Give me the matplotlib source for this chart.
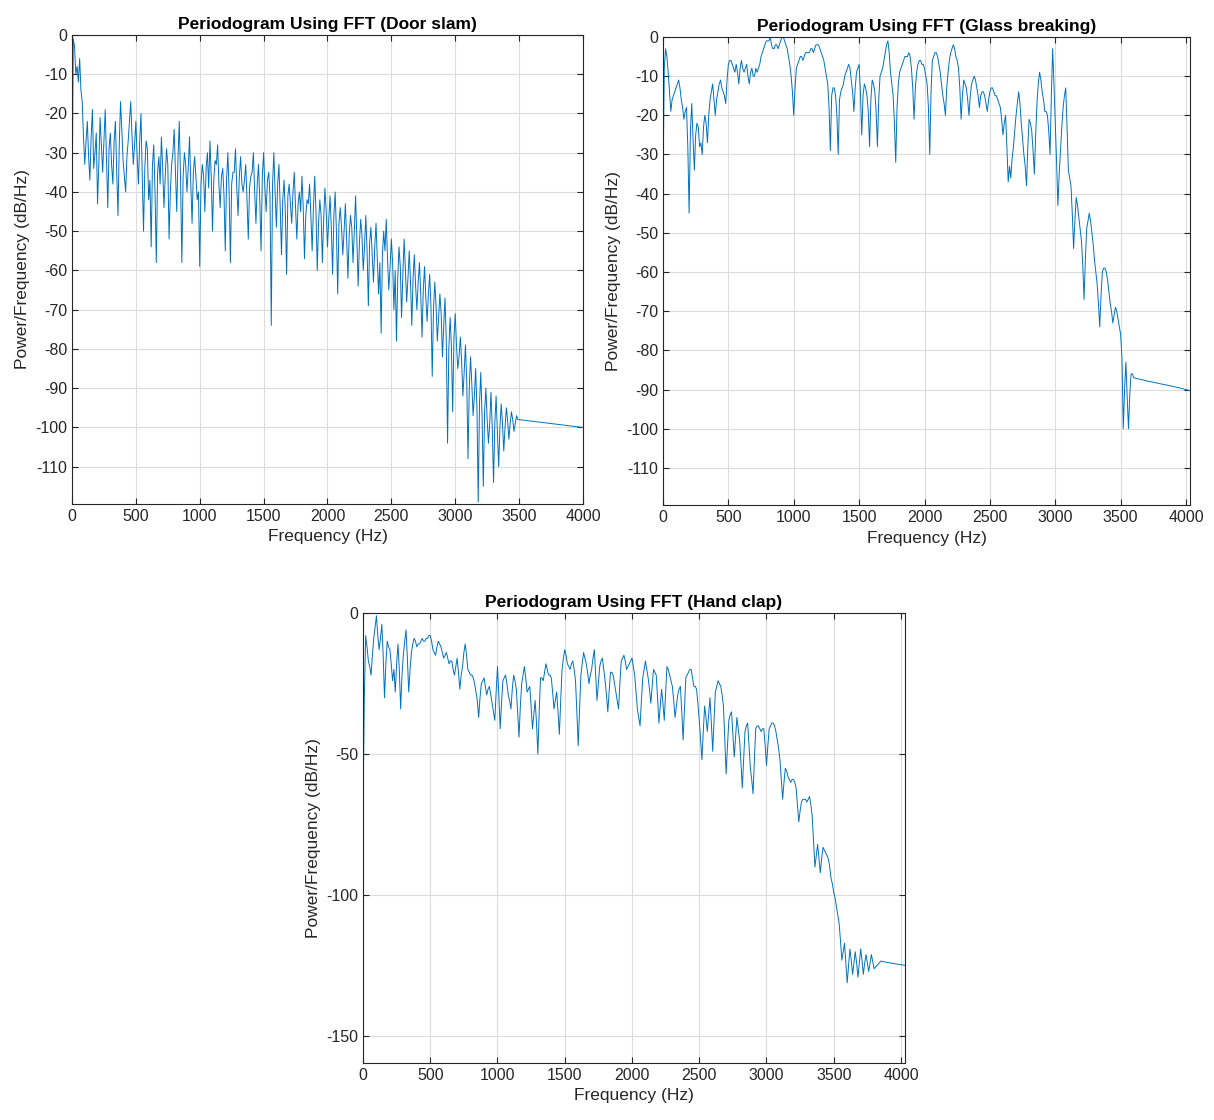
import numpy as np
import matplotlib.pyplot as plt

plt.rcParams['font.family'] = ['Liberation Sans', 'DejaVu Sans']
plt.rcParams['axes.unicode_minus'] = False

# Door slam: values on a 20 Hz grid (0-3500), in-between values (10-3490), flat tail
door_freq = np.arange(0, 3520, 20)
door_db = [
    -48, -3, -8, -6, -17, -33, -22, -37, -19, -30,
    -43, -21, -35, -19, -44, -25, -38, -22, -46, -17,
    -32, -40, -27, -17, -33, -22, -38, -20, -50, -27,
    -42, -54, -28, -58, -31, -26, -44, -29, -52, -33,
    -24, -45, -22, -58, -30, -40, -26, -48, -31, -42,
    -59, -33, -45, -30, -27, -50, -32, -28, -44, -34,
    -55, -30, -58, -35, -29, -46, -31, -40, -33, -52,
    -36, -30, -48, -33, -55, -30, -45, -35, -74, -30,
    -49, -33, -56, -37, -61, -38, -48, -35, -52, -40,
    -36, -57, -42, -38, -55, -36, -60, -42, -58, -39,
    -54, -41, -61, -40, -66, -44, -56, -43, -62, -46,
    -58, -41, -64, -47, -60, -46, -69, -49, -63, -48,
    -66, -76, -50, -47, -65, -52, -70, -78, -54, -72,
    -52, -68, -55, -74, -56, -70, -58, -77, -59, -73,
    -61, -87, -63, -78, -66, -82, -67, -104, -72, -96,
    -71, -85, -77, -92, -79, -108, -82, -97, -85, -119,
    -86, -115, -90, -104, -91, -114, -92, -110, -94, -106,
    -95, -103, -96, -101, -97, -98,
]
door_mid_freq = np.arange(10, 3500, 20)
door_mid_db = [
    -1, -10, -12, -14, -26, -27, -31, -26, -34, -25,
    -33, -28, -27, -32, -29, -33, -27, -35, -28, -24,
    -36, -31, -22, -26, -28, -31, -27, -36, -34, -29,
    -37, -33, -40, -35, -38, -34, -36, -33, -40, -30,
    -35, -31, -37, -36, -33, -34, -38, -35, -36, -40,
    -38, -36, -34, -39, -36, -37, -33, -38, -36, -41,
    -37, -40, -38, -35, -39, -36, -38, -37, -42, -39,
    -35, -40, -38, -42, -36, -39, -37, -41, -38, -40,
    -38, -44, -42, -45, -41, -43, -40, -44, -43, -45,
    -44, -46, -43, -46, -44, -45, -48, -46, -47, -45,
    -47, -49, -46, -50, -48, -49, -50, -52, -51, -49,
    -50, -52, -53, -51, -54, -55, -53, -56, -54, -57,
    -58, -56, -55, -57, -59, -58, -60, -62, -59, -61,
    -60, -62, -63, -62, -64, -63, -66, -65, -67, -66,
    -69, -70, -69, -72, -71, -74, -78, -80, -79, -77,
    -79, -82, -83, -86, -88, -90, -89, -92, -95, -94,
    -97, -96, -98, -99, -100, -99, -101, -100, -99, -100,
    -98, -99, -98, -99, -98,
]
door_tail_freq = [3600, 3700, 3800, 3900, 4000]
door_tail_db = [-98.4, -98.8, -99.2, -99.6, -100.0]

# Glass breaking: 20 Hz grid (0-3600), in-between values (10-3590), tail
glass_freq = np.arange(0, 3620, 20)
glass_db = [
    -38, -3, -9, -19, -15, -13, -11, -16, -21, -18,
    -45, -17, -34, -22, -28, -30, -20, -27, -16, -12,
    -20, -14, -11, -14, -17, -7, -6, -8, -7, -12,
    -6, -9, -7, -12, -8, -10, -9, -7, -4, -2,
    -1, 0, -3, -2, -3, -1, 0, -2, -5, -10,
    -20, -8, -6, -5, -5, -4, -4, -3, -3, -2,
    -3, -5, -8, -12, -29, -13, -15, -30, -14, -12,
    -9, -7, -11, -19, -9, -7, -25, -12, -15, -28,
    -11, -14, -28, -10, -8, -4, -1, -9, -15, -32,
    -12, -8, -6, -5, -4, -8, -21, -9, -6, -7,
    -8, -12, -30, -6, -4, -5, -9, -15, -20, -9,
    -4, -2, -5, -8, -21, -11, -13, -20, -12, -10,
    -13, -18, -14, -15, -19, -14, -13, -15, -16, -18,
    -25, -20, -37, -36, -28, -20, -14, -22, -30, -38,
    -21, -24, -35, -17, -9, -14, -19, -20, -30, -3,
    -22, -43, -29, -18, -13, -34, -38, -54, -41, -46,
    -52, -67, -49, -45, -50, -57, -63, -74, -60, -59,
    -62, -68, -73, -69, -72, -76, -100, -83, -100, -86,
    -87,
]
glass_mid_freq = np.arange(10, 3600, 20)
glass_mid_db = [
    -8, -5, -14, -16, -14, -12, -13, -18, -19, -28,
    -24, -26, -25, -23, -27, -23, -22, -20, -14, -16,
    -16, -12, -13, -15, -11, -6, -7, -9, -9, -8,
    -8, -8, -10, -9, -10, -8, -8, -5, -3, -1,
    -1, -2, -3, -2, -2, 0, -1, -3, -7, -14,
    -13, -7, -5, -6, -4, -4, -3, -4, -2, -2,
    -4, -6, -10, -18, -15, -13, -20, -16, -13, -10,
    -8, -8, -14, -13, -8, -14, -15, -13, -19, -16,
    -12, -19, -16, -9, -6, -2, -4, -12, -22, -18,
    -9, -7, -5, -5, -5, -13, -13, -7, -6, -7,
    -10, -18, -14, -5, -4, -7, -12, -17, -13, -6,
    -3, -3, -6, -13, -15, -12, -16, -15, -11, -11,
    -15, -15, -14, -17, -16, -13, -14, -15, -17, -21,
    -22, -28, -33, -31, -24, -17, -17, -26, -33, -28,
    -22, -29, -25, -12, -11, -16, -19, -24, -15, -12,
    -32, -35, -23, -15, -23, -36, -45, -47, -43, -49,
    -58, -57, -47, -47, -53, -60, -68, -66, -59, -60,
    -65, -70, -71, -70, -74, -82, -90, -92, -91, -86,
]
glass_tail_freq = [3700, 3800, 3900, 4000, 4030]
glass_tail_db = [-87.8, -88.5, -89.2, -90.0, -90.3]

# Hand clap: 20 Hz grid (0-3800), in-between values (10-3790), tail
clap_freq = np.arange(0, 3820, 20)
clap_db = [
    -70, -8, -17, -22, -9, -1, -13, -4, -30, -10,
    -13, -24, -28, -11, -34, -15, -6, -28, -14, -9,
    -12, -11, -9, -10, -9, -8, -13, -15, -10, -12,
    -16, -14, -18, -17, -22, -16, -27, -19, -11, -20,
    -22, -23, -28, -37, -25, -23, -29, -26, -32, -38,
    -19, -41, -24, -22, -29, -34, -22, -27, -44, -25,
    -19, -28, -26, -41, -31, -50, -23, -24, -18, -22,
    -23, -34, -28, -43, -20, -13, -18, -20, -17, -24,
    -47, -22, -14, -18, -25, -20, -13, -31, -19, -16,
    -24, -35, -21, -22, -28, -34, -17, -15, -20, -18,
    -16, -22, -34, -40, -23, -17, -23, -32, -20, -22,
    -39, -27, -38, -19, -22, -26, -37, -29, -26, -45,
    -23, -21, -20, -26, -27, -38, -52, -33, -42, -30,
    -49, -28, -24, -26, -33, -57, -38, -35, -51, -37,
    -45, -62, -42, -39, -55, -64, -41, -40, -42, -41,
    -54, -41, -39, -40, -45, -52, -66, -55, -58, -60,
    -59, -62, -74, -67, -66, -67, -65, -72, -90, -82,
    -92, -83, -85, -87, -94, -99, -104, -110, -123, -117,
    -131, -119, -128, -120, -129, -119, -128, -121, -127, -121,
    -126,
]
clap_mid_freq = np.arange(10, 3800, 20)
clap_mid_db = [
    -30, -12, -19, -15, -5, -8, -9, -15, -18, -12,
    -18, -20, -18, -20, -22, -10, -16, -20, -11, -10,
    -11, -10, -10, -9, -8, -10, -14, -12, -11, -14,
    -15, -16, -17, -20, -19, -21, -22, -14, -15, -21,
    -22, -25, -31, -30, -24, -26, -27, -29, -35, -28,
    -29, -32, -23, -25, -31, -27, -24, -35, -33, -22,
    -23, -27, -33, -36, -39, -35, -23, -21, -20, -22,
    -28, -31, -35, -31, -16, -15, -19, -18, -20, -35,
    -34, -18, -16, -21, -22, -16, -22, -25, -17, -20,
    -29, -28, -21, -25, -31, -25, -16, -17, -19, -17,
    -19, -28, -37, -31, -20, -20, -27, -26, -21, -30,
    -33, -32, -28, -20, -24, -31, -33, -27, -35, -34,
    -22, -20, -23, -26, -32, -45, -42, -37, -36, -39,
    -38, -26, -25, -29, -45, -47, -36, -43, -44, -41,
    -53, -52, -40, -47, -59, -52, -40, -41, -41, -47,
    -47, -40, -39, -42, -48, -59, -60, -56, -59, -59,
    -60, -68, -70, -66, -66, -66, -68, -81, -86, -87,
    -87, -84, -86, -90, -96, -101, -107, -116, -120, -124,
    -125, -123, -124, -124, -124, -123, -124, -124, -124, -123.5,
]
clap_tail_freq = [3850, 3900, 3950, 4000, 4030]
clap_tail_db = [-123.3, -123.8, -124.2, -124.6, -124.8]

panels = [
    ("Door slam", [door_freq, door_mid_freq, door_tail_freq],
     [door_db, door_mid_db, door_tail_db],
     [0.0593, 0.550, 0.4209, 0.4188], (0, 4000), (-119.5, 0), np.arange(-110, 1, 10)),
    ("Glass breaking", [glass_freq, glass_mid_freq, glass_tail_freq],
     [glass_db, glass_mid_db, glass_tail_db],
     [0.5461, 0.549, 0.4341, 0.4180], (0, 4030), (-119.5, 0), np.arange(-110, 1, 10)),
    ("Hand clap", [clap_freq, clap_mid_freq, clap_tail_freq],
     [clap_db, clap_mid_db, clap_tail_db],
     [0.2990, 0.0509, 0.4465, 0.4018], (0, 4030), (-159.4, 0), np.arange(-150, 1, 50)),
]

fig = plt.figure(figsize=(12.14, 11.2), dpi=100)
dark = '#262626'

for name, fs, ps, rect, xl, yl, yt in panels:
    ax = fig.add_axes(rect)
    x = np.concatenate([np.asarray(f, float) for f in fs])
    y = np.concatenate([np.asarray(p, float) for p in ps])
    order = np.argsort(x, kind='stable')
    ax.plot(x[order], y[order], color='#0072BD', lw=0.7)
    ax.set_xlim(*xl)
    ax.set_ylim(*yl)
    ax.set_xticks(np.arange(0, 4001, 500))
    ax.set_yticks(yt)
    ax.grid(True, color='#dcdcdc', lw=0.8)
    ax.set_axisbelow(True)
    ax.tick_params(direction='in', top=True, right=True, labelsize=11.5,
                   colors=dark, length=4, width=0.8)
    for s in ax.spines.values():
        s.set_color(dark)
        s.set_linewidth(0.8)
    ax.set_title(f"Periodogram Using FFT ({name})", fontsize=12.5,
                 fontweight='bold', color='black', pad=4)
    ax.set_xlabel("Frequency (Hz)", fontsize=12.5, color=dark)
    ax.set_ylabel("Power/Frequency (dB/Hz)", fontsize=12.5, color=dark)

fig.savefig("out.png", dpi=100)
